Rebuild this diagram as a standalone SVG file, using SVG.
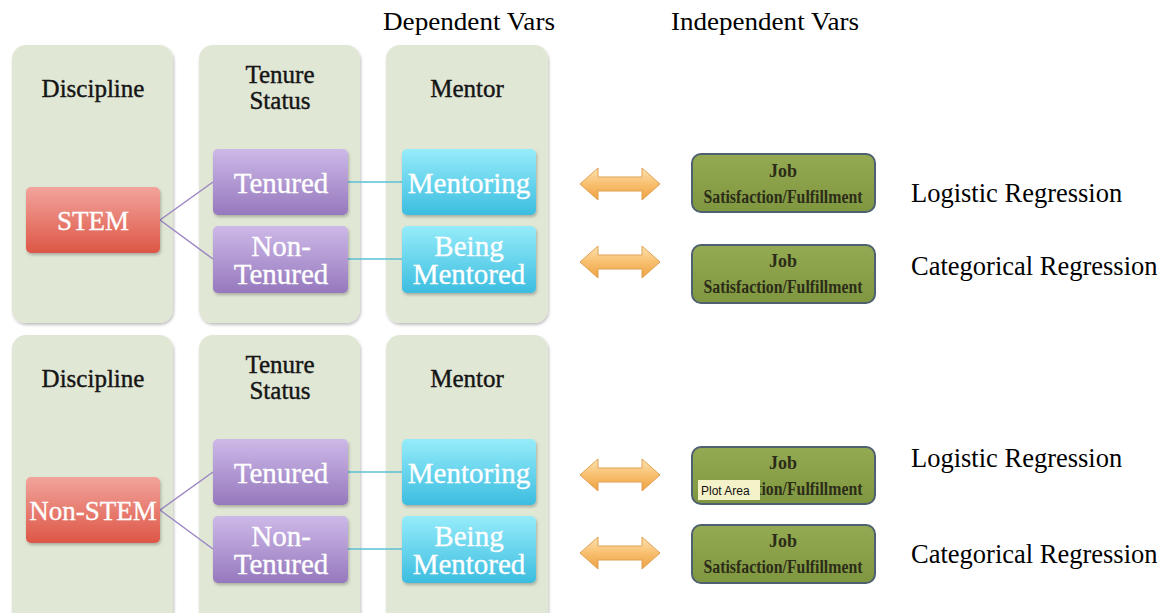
<svg xmlns="http://www.w3.org/2000/svg" width="1167" height="613" viewBox="0 0 1167 613">
<defs>
<linearGradient id="gRed" x1="0" y1="0" x2="0" y2="1"><stop offset="0" stop-color="#f2a49c"/><stop offset="1" stop-color="#dd5646"/></linearGradient>
<linearGradient id="gPur" x1="0" y1="0" x2="0" y2="1"><stop offset="0" stop-color="#cdb9e8"/><stop offset="1" stop-color="#9678bd"/></linearGradient>
<linearGradient id="gCyan" x1="0" y1="0" x2="0" y2="1"><stop offset="0" stop-color="#96ecfa"/><stop offset="1" stop-color="#3cbde0"/></linearGradient>
<linearGradient id="gOr" x1="0" y1="0" x2="0" y2="1"><stop offset="0" stop-color="#fde2b0"/><stop offset="0.5" stop-color="#f8c070"/><stop offset="1" stop-color="#eea040"/></linearGradient>
<linearGradient id="gGreen" x1="0" y1="0" x2="0" y2="1"><stop offset="0" stop-color="#94aa52"/><stop offset="1" stop-color="#7f9740"/></linearGradient>
<filter id="sh" x="-10%" y="-10%" width="130%" height="130%"><feDropShadow dx="1" dy="2" stdDeviation="1.5" flood-color="#000" flood-opacity="0.25"/></filter>
<polygon id="arr" points="-40,0 -22,-16 -22,-7 22,-7 22,-16 40,0 22,16 22,7 -22,7 -22,16"/>
</defs>
<style>
.panel{fill:#e1e7d5;filter:url(#sh)}
.hd{font-family:"Liberation Serif",serif;font-size:25px;fill:#151515;stroke:#151515;stroke-width:0.4;text-anchor:middle}
.nt{font-family:"Liberation Serif",serif;font-size:29px;fill:#fff;stroke:#fff;stroke-width:0.3;text-anchor:middle}
.ns{font-size:27px}
.red{fill:url(#gRed);filter:url(#sh)}
.pur{fill:url(#gPur);filter:url(#sh)}
.cy{fill:url(#gCyan);filter:url(#sh)}
.cp{stroke:#9c86c4;stroke-width:1.5;fill:none}
.cc{stroke:#5cc0d6;stroke-width:1.5;fill:none}
.ar{fill:url(#gOr);stroke:#e0a050;stroke-width:1}
.gb{fill:url(#gGreen);stroke:#4f6070;stroke-width:2}
.gt{font-family:"Liberation Serif",serif;font-weight:bold;font-size:18px;fill:#2c2c18;text-anchor:middle}
.tt{font-family:"Liberation Serif",serif;font-size:25px;fill:#000}
.lb{font-family:"Liberation Serif",serif;font-size:26.5px;fill:#000}
</style>

<text class="tt" x="383" y="30" textLength="172" lengthAdjust="spacingAndGlyphs">Dependent Vars</text>
<text class="tt" x="671" y="30" textLength="188" lengthAdjust="spacingAndGlyphs">Independent Vars</text>

<g id="panels-top">
<rect class="panel" x="12" y="45" width="161" height="278" rx="14"/>
<rect class="panel" x="199" y="45" width="161" height="278" rx="14"/>
<rect class="panel" x="386" y="45" width="162" height="278" rx="14"/>
<text class="hd" x="93" y="97">Discipline</text>
<text class="hd" x="280" y="83">Tenure</text>
<text class="hd" x="280" y="109">Status</text>
<text class="hd" x="467" y="97">Mentor</text>
</g>
<g id="panels-bottom">
<rect class="panel" x="12" y="335" width="161" height="290" rx="14"/>
<rect class="panel" x="199" y="335" width="161" height="290" rx="14"/>
<rect class="panel" x="386" y="335" width="162" height="290" rx="14"/>
<text class="hd" x="93" y="387">Discipline</text>
<text class="hd" x="280" y="373">Tenure</text>
<text class="hd" x="280" y="399">Status</text>
<text class="hd" x="467" y="387">Mentor</text>
</g>

<g id="connectors">
<path class="cp" d="M160,220 L213,182 M160,220 L213,259"/>
<path class="cc" d="M348,182 L402,182 M348,259 L402,259"/>
<path class="cp" d="M160,510 L213,472 M160,510 L213,549"/>
<path class="cc" d="M348,472 L402,472 M348,549 L402,549"/>
</g>

<g id="stem"><rect class="red" x="26" y="187" width="134" height="66" rx="5"/><text class="nt ns" x="93" y="230">STEM</text></g>
<g id="tenured1"><rect class="pur" x="213" y="149" width="135" height="66" rx="5"/><text class="nt" x="281" y="193">Tenured</text></g>
<g id="nontenured1"><rect class="pur" x="213" y="226" width="135" height="67" rx="5"/><text class="nt" x="281" y="256">Non-</text><text class="nt" x="281" y="284">Tenured</text></g>
<g id="mentoring1"><rect class="cy" x="402" y="149" width="134" height="66" rx="5"/><text class="nt" x="469" y="193">Mentoring</text></g>
<g id="mentored1"><rect class="cy" x="402" y="226" width="134" height="67" rx="5"/><text class="nt" x="469" y="256">Being</text><text class="nt" x="469" y="284">Mentored</text></g>

<g id="nonstem"><rect class="red" x="26" y="477" width="134" height="66" rx="5"/><text class="nt ns" x="93" y="520">Non-STEM</text></g>
<g id="tenured2"><rect class="pur" x="213" y="439" width="135" height="66" rx="5"/><text class="nt" x="281" y="483">Tenured</text></g>
<g id="nontenured2"><rect class="pur" x="213" y="516" width="135" height="67" rx="5"/><text class="nt" x="281" y="546">Non-</text><text class="nt" x="281" y="574">Tenured</text></g>
<g id="mentoring2"><rect class="cy" x="402" y="439" width="134" height="66" rx="5"/><text class="nt" x="469" y="483">Mentoring</text></g>
<g id="mentored2"><rect class="cy" x="402" y="516" width="134" height="67" rx="5"/><text class="nt" x="469" y="546">Being</text><text class="nt" x="469" y="574">Mentored</text></g>

<g id="arrows">
<use href="#arr" class="ar" x="620" y="184"/>
<use href="#arr" class="ar" x="620" y="262"/>
<use href="#arr" class="ar" x="620" y="475"/>
<use href="#arr" class="ar" x="620" y="553"/>
</g>

<g id="job1"><rect class="gb" x="692" y="154" width="183" height="58" rx="9"/><text class="gt" x="783" y="177">Job</text><text class="gt" x="783" y="203" textLength="159" lengthAdjust="spacingAndGlyphs">Satisfaction/Fulfillment</text></g>
<g id="job2"><rect class="gb" x="692" y="245" width="183" height="58" rx="9"/><text class="gt" x="783" y="267">Job</text><text class="gt" x="783" y="293" textLength="159" lengthAdjust="spacingAndGlyphs">Satisfaction/Fulfillment</text></g>
<g id="job3"><rect class="gb" x="692" y="447" width="183" height="57" rx="9"/><text class="gt" x="783" y="469">Job</text><text class="gt" x="783" y="495" textLength="159" lengthAdjust="spacingAndGlyphs">Satisfaction/Fulfillment</text>
<rect x="698" y="480" width="62" height="20" fill="#f4f2c8"/><text x="701" y="495" font-family="Liberation Sans, sans-serif" font-size="12" fill="#111">Plot Area</text></g>
<g id="job4"><rect class="gb" x="692" y="525" width="183" height="58" rx="9"/><text class="gt" x="783" y="547">Job</text><text class="gt" x="783" y="573" textLength="159" lengthAdjust="spacingAndGlyphs">Satisfaction/Fulfillment</text></g>

<g id="labels">
<text class="lb" x="911" y="202">Logistic Regression</text>
<text class="lb" x="911" y="275">Categorical Regression</text>
<text class="lb" x="911" y="467">Logistic Regression</text>
<text class="lb" x="911" y="563">Categorical Regression</text>
</g>
</svg>
